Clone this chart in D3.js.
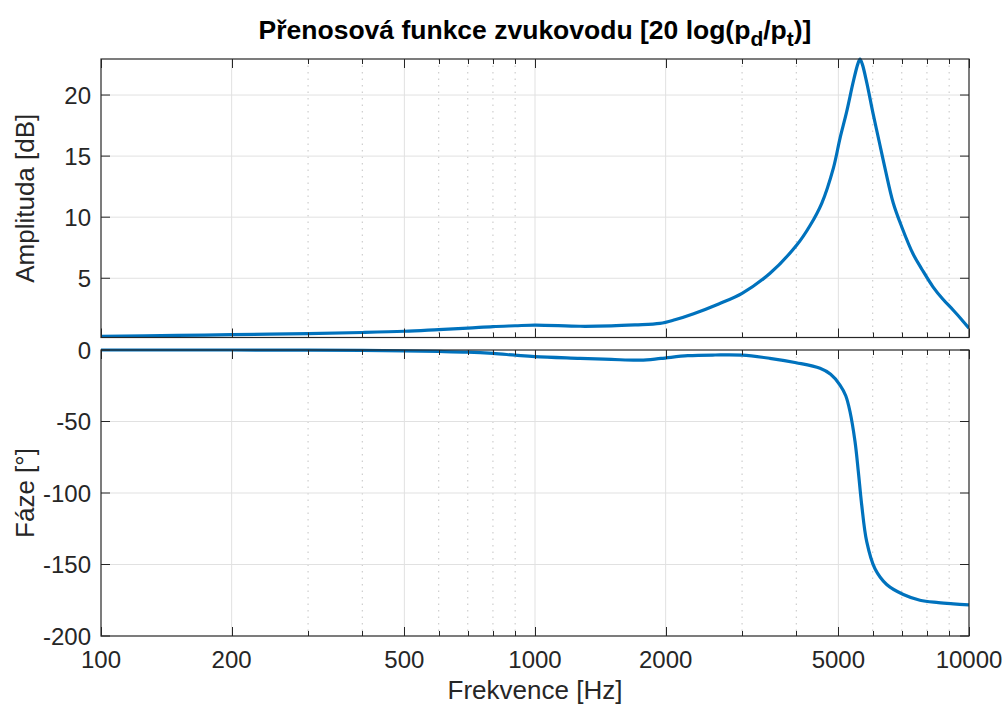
<!DOCTYPE html>
<html>
<head>
<meta charset="utf-8">
<script src="https://cdn.jsdelivr.net/npm/d3@7"></script>
<style>
  body { margin: 0; background: #fff; }
  svg { display: block; font-family: "Liberation Sans", Arial, Helvetica, sans-serif; }
</style>
</head>
<body>
<svg id="chart" width="1006" height="711"></svg>
<script>
// amplitude samples (Hz, dB)
const ampFreq = [100, 150, 200, 300, 400, 500, 600, 700, 800, 900, 1000, 1270, 1500, 1700, 1940,
  2100, 2320, 2650, 3000, 3480, 4010, 4300, 4578, 4868, 5044, 5226, 5412, 5545, 5609, 5675,
  5815, 6010, 6200, 6405, 6693, 7000, 7430, 7800, 8260, 8700, 9190, 9600, 10000];
const ampDb = [0.25, 0.32, 0.38, 0.47, 0.56, 0.66, 0.8, 0.92, 1.04, 1.11, 1.17, 1.07, 1.1, 1.18, 1.3,
  1.6, 2.1, 2.9, 3.77, 5.41, 7.72, 9.3, 11.14, 14.0, 16.46, 18.64, 21.09, 22.55, 22.95, 22.55,
  21.0, 18.5, 16.3, 14.0, 11.14, 9.2, 7.0, 5.7, 4.3, 3.3, 2.4, 1.65, 0.9];

// phase samples (Hz, degrees)
const phaseFreq = [100, 200, 300, 400, 500, 600, 700, 800, 900, 1000, 1270, 1500, 1750, 1950, 2250,
  2600, 3000, 3475, 4000, 4537, 4800, 5044, 5200, 5318, 5462, 5559, 5658, 5812, 6073, 6461,
  7058, 7709, 8500, 9200, 10000];
const phaseDeg = [0, 0, -0.1, -0.3, -0.6, -1.0, -1.5, -2.4, -3.6, -4.6, -5.8, -6.6, -7.1, -5.9, -4.0,
  -3.5, -3.6, -5.8, -8.9, -12.8, -17, -24.5, -32, -43, -64, -85, -108, -134, -153, -164,
  -171, -175, -176.6, -177.5, -178.3];

// tick labels / grid positions
const xMajor = [100, 200, 500, 1000, 2000, 5000, 10000];
const xMinor = [300, 400, 600, 700, 800, 900, 3000, 4000, 6000, 7000, 8000, 9000];
const ampTicks = [5, 10, 15, 20];
const phaseTicks = [0, -50, -100, -150, -200];

const svg = d3.select("#chart");
const axisColor = "#262626";
const lineColor = "#0072BD";

const left = 101, right = 969;
const x = d3.scaleLog().domain([100, 10000]).range([left, right]);

const panels = [
  { top: 59, bottom: 337.5, domain: [0.15, 22.95], ticks: ampTicks, label: "Amplituda [dB]",
    fx: ampFreq, fy: ampDb },
  { top: 350, bottom: 636, domain: [-200, 0], ticks: phaseTicks, label: "Fáze [°]",
    fx: phaseFreq, fy: phaseDeg }
];

panels.forEach((p, i) => {
  const y = d3.scaleLinear().domain(p.domain).range([p.bottom, p.top]);
  const g = svg.append("g");

  // minor grid (dotted)
  g.selectAll(".minor").data(xMinor).join("line")
    .attr("x1", d => x(d)).attr("x2", d => x(d))
    .attr("y1", p.top).attr("y2", p.bottom)
    .attr("stroke", "#c4c4c4").attr("stroke-width", 1)
    .attr("stroke-dasharray", "1.5,5");

  // major grid
  g.selectAll(".majx").data(xMajor.slice(1, -1)).join("line")
    .attr("x1", d => x(d)).attr("x2", d => x(d))
    .attr("y1", p.top).attr("y2", p.bottom)
    .attr("stroke", "#e1e1e1").attr("stroke-width", 1);
  g.selectAll(".majy").data(p.ticks.filter(t => y(t) > p.top + 1 && y(t) < p.bottom - 1)).join("line")
    .attr("x1", left).attr("x2", right)
    .attr("y1", d => y(d)).attr("y2", d => y(d))
    .attr("stroke", "#e1e1e1").attr("stroke-width", 1);

  // curve
  const clipId = "clip" + i;
  svg.append("clipPath").attr("id", clipId).append("rect")
    .attr("x", left).attr("y", p.top - 2).attr("width", right - left).attr("height", p.bottom - p.top + 4);
  const line = d3.line()
    .x(d => x(d[0])).y(d => y(d[1]))
    .curve(d3.curveCatmullRom.alpha(0.5));
  g.append("path")
    .datum(p.fx.map((f, k) => [f, p.fy[k]]))
    .attr("d", line)
    .attr("fill", "none")
    .attr("stroke", lineColor)
    .attr("stroke-width", 3.2)
    .attr("stroke-linejoin", "round")
    .attr("clip-path", `url(#${clipId})`);

  // ticks on all four sides
  const tg = g.append("g").attr("stroke", axisColor).attr("stroke-width", 1);
  const addX = (vals, len) => vals.forEach(v => {
    const xv = Math.round(x(v)) + 0.5;
    tg.append("line").attr("x1", xv).attr("x2", xv).attr("y1", p.bottom).attr("y2", p.bottom - len);
    tg.append("line").attr("x1", xv).attr("x2", xv).attr("y1", p.top).attr("y2", p.top + len);
  });
  addX(xMajor, 9);
  addX(xMinor, 5);
  p.ticks.forEach(t => {
    const yv = y(t);
    tg.append("line").attr("x1", left).attr("x2", left + 9).attr("y1", yv).attr("y2", yv);
    tg.append("line").attr("x1", right).attr("x2", right - 9).attr("y1", yv).attr("y2", yv);
  });

  // box
  g.append("rect")
    .attr("x", left).attr("y", p.top).attr("width", right - left).attr("height", p.bottom - p.top)
    .attr("fill", "none").attr("stroke", axisColor).attr("stroke-width", 1.2);

  // y tick labels
  g.selectAll(".ylab").data(p.ticks).join("text")
    .attr("x", left - 10).attr("y", d => y(d))
    .attr("dy", "0.36em")
    .attr("text-anchor", "end")
    .attr("font-size", 24)
    .attr("fill", axisColor)
    .text(d => d);

  // y axis label
  svg.append("text")
    .attr("transform", `translate(34,${(p.top + p.bottom) / 2}) rotate(-90)`)
    .attr("text-anchor", "middle")
    .attr("font-size", 26)
    .attr("fill", axisColor)
    .text(p.label);
});

// x tick labels (bottom panel only)
svg.selectAll(".xlab").data(xMajor).join("text")
  .attr("x", d => x(d)).attr("y", 668)
  .attr("text-anchor", "middle")
  .attr("font-size", 24)
  .attr("fill", axisColor)
  .text(d => d);

svg.append("text")
  .attr("x", (left + right) / 2).attr("y", 699)
  .attr("text-anchor", "middle")
  .attr("font-size", 26)
  .attr("fill", axisColor)
  .text("Frekvence [Hz]");

// title with subscripts
const title = svg.append("text")
  .attr("x", (left + right) / 2).attr("y", 39)
  .attr("text-anchor", "middle")
  .attr("font-size", 26.5)
  .attr("font-weight", "bold")
  .attr("fill", "#000");
title.append("tspan").text("Přenosová funkce zvukovodu [20 log(p");
title.append("tspan").attr("dy", 7).attr("font-size", 21).text("d");
title.append("tspan").attr("dy", -7).text("/p");
title.append("tspan").attr("dy", 7).attr("font-size", 21).text("t");
title.append("tspan").attr("dy", -7).text(")]");
</script>
</body>
</html>
